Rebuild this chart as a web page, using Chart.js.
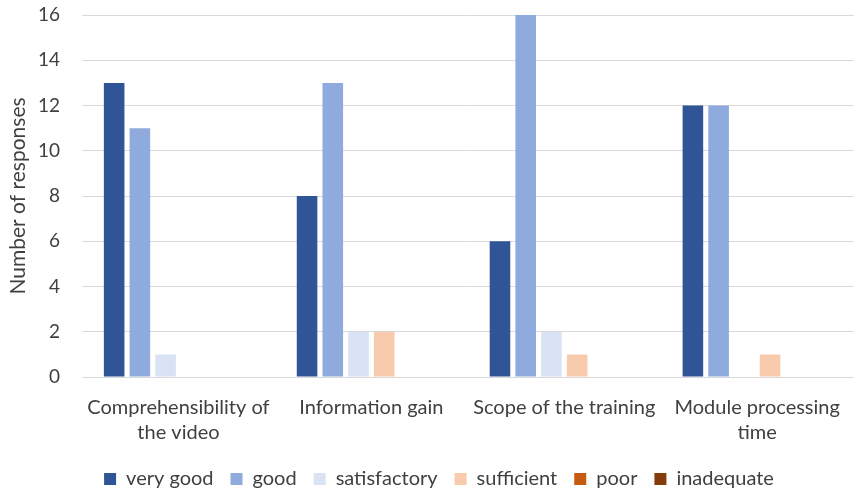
<!DOCTYPE html>
<html>
<head>
<meta charset="utf-8">
<script src="https://cdn.jsdelivr.net/npm/chart.js@4"></script>
<style>
  html, body { margin: 0; padding: 0; background: #fff; }
  #wrap { width: 858px; height: 493px; }
</style>
</head>
<body>
<div id="wrap"><canvas id="c"></canvas></div>
<script>
// Survey ratings per module aspect
const categories = [
  ["Comprehensibility of", "the video"],
  ["Information gain"],
  ["Scope of the training"],
  ["Module processing", "time"],
];
const veryGood = [13, 8, 6, 12];
const good = [11, 13, 16, 12];
const satisfactory = [1, 2, 2, 0];
const sufficient = [0, 2, 1, 1];
const poor = [0, 0, 0, 0];
const inadequate = [0, 0, 0, 0];
const yTicks = [0, 2, 4, 6, 8, 10, 12, 14, 16];

const FONT = "Lato, 'Open Sans', sans-serif";
const TEXT = "#404040";
const LEGEND_H = 49;

function ds(label, data, color) {
  return { label, data, backgroundColor: color, borderColor: color, borderWidth: 0 };
}

// Keep the legend short in the layout, then park it under the category labels.
const tightLegend = {
  id: "tightLegend",
  beforeLayout(chart) {
    const lg = chart.legend;
    if (lg && !lg._tight) {
      const fit = lg.fit.bind(lg);
      lg.fit = function () { fit(); this.height = LEGEND_H; };
      lg._tight = true;
    }
  },
  beforeDraw(chart) {
    const lg = chart.legend;
    if (!lg) return;
    lg.top = 452; lg.bottom = lg.top + lg.height;
    lg.left = 10; lg.right = chart.width + 10;
  },
};

new Chart(document.getElementById("c"), {
  type: "bar",
  data: {
    labels: categories,
    datasets: [
      ds("very good", veryGood, "#2F5597"),
      ds("good", good, "#8FAADC"),
      ds("satisfactory", satisfactory, "#DAE3F3"),
      ds("sufficient", sufficient, "#F8CBAD"),
      ds("poor", poor, "#C55A11"),
      ds("inadequate", inadequate, "#843C0C"),
    ],
  },
  plugins: [tightLegend],
  options: {
    responsive: true, maintainAspectRatio: false, animation: false,
    categoryPercentage: 0.8, barPercentage: 0.8,
    layout: { padding: { top: 15, right: 1, bottom: 0, left: 0 } },
    plugins: {
      tooltip: { enabled: false },
      legend: {
        position: "bottom",
        labels: {
          color: TEXT, font: { family: FONT, size: 20 },
          boxWidth: 12, boxHeight: 12, padding: 17,
        },
      },
    },
    scales: {
      x: {
        grid: { display: false, drawTicks: false },
        border: { color: "#D9D9D9", width: 1 },
        ticks: { color: TEXT, font: { family: FONT, size: 20, lineHeight: 1.25 }, padding: 18, maxRotation: 0 },
        afterFit: s => { s.height = 67; },
      },
      y: {
        min: 0, max: 16,
        afterBuildTicks: s => { s.ticks = yTicks.map(v => ({ value: v })); },
        grid: { color: "#D9D9D9", drawTicks: false },
        border: { display: false },
        ticks: { color: TEXT, font: { family: FONT, size: 19 }, padding: 22 },
        title: { display: true, text: "Number of responses", color: TEXT, font: { family: FONT, size: 21 }, padding: { top: 6, bottom: 0 } },
        afterFit: s => { s.width = 82; s.paddingTop = 0; s.paddingBottom = 0; },
      },
    },
  },
});
</script>
</body>
</html>
